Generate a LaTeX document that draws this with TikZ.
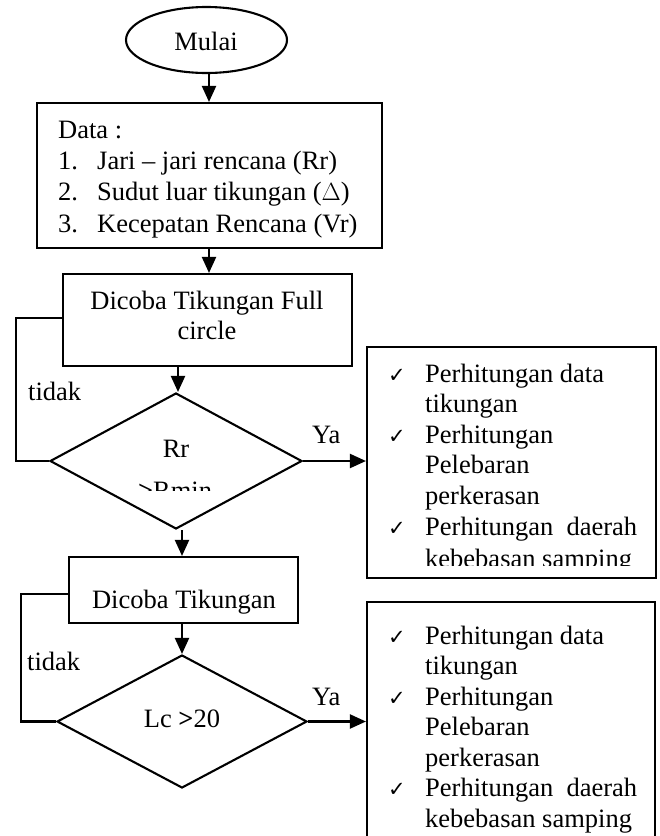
\documentclass[tikz,border=0pt]{standalone}
\usepackage{fontspec}
\setmainfont{Liberation Serif}
\newfontfamily\symfont{DejaVu Sans}
\usetikzlibrary{arrows.meta,shapes.geometric}
\begin{document}
\begin{tikzpicture}[x=1pt,y=-1pt,
  lw/.style={line width=2.1pt},
  boxnode/.style={draw,lw,rectangle,inner sep=0pt},
  diam/.style={draw,lw,diamond,inner sep=0pt},
  txt/.style={inner sep=0pt,font=\fontsize{26.5}{30.6}\selectfont},
  chk/.style={inner sep=0pt,font=\symfont\fontsize{21}{21}\selectfont},
  arr/.style={lw,-{Triangle[length=16pt,width=14pt]}},
  fb/.style={lw}
]
\clip (0,0) rectangle (660,836);
\fill[white] (0,0) rectangle (660,836);

% shapes
\node[draw,lw,ellipse,inner sep=0pt,minimum width=161pt,minimum height=66pt] (mulai) at (206.5,40) {};
\node[boxnode,minimum width=345pt,minimum height=145pt] (data) at (209.5,175.5) {};
\node[boxnode,minimum width=289pt,minimum height=92pt] (full) at (207.5,320) {};
\node[diam,minimum width=252pt,minimum height=136pt] (d1) at (176,461) {};
\node[boxnode,minimum width=229pt,minimum height=66pt] (tik) at (183.5,590) {};
\node[diam,minimum width=250pt,minimum height=133pt] (d2) at (182,721.5) {};
\node[boxnode,minimum width=289pt,minimum height=231pt] (r1) at (511.5,462.5) {};
\node[boxnode,minimum width=288pt,minimum height=258pt] (r2) at (511,731) {};

% texts
\node[txt,anchor=base] (tmulai) at (206,50) {Mulai};
\node[txt,anchor=base west] (td0) at (58,138) {Data :};
\node[txt,anchor=base west] (tn1) at (58,169.5) {1.};
\node[txt,anchor=base west] (tl1) at (97,169.5) {Jari -- jari rencana (Rr)};
\node[txt,anchor=base west] (tn2) at (58,200.8) {2.};
\node[txt,anchor=base west] (tl2) at (97,200.8) {Sudut luar tikungan ($\Delta$)};
\node[txt,anchor=base west] (tn3) at (58,232) {3.};
\node[txt,anchor=base west] (tl3) at (97,232) {Kecepatan Rencana (Vr)};

\node[txt,anchor=base] (tf1) at (207,309) {Dicoba Tikungan Full};
\node[txt,anchor=base] (tf2) at (207,339.5) {circle};

\node[txt,anchor=base] (trr) at (176,457) {Rr};
\begin{scope}
  \clip (100,420) rectangle (260,490);
  \node[txt,anchor=base] (trmin) at (175,499) {\textbf{>}Rmin};
\end{scope}

\node[txt,anchor=base] (ttik) at (184,608) {Dicoba Tikungan};
\node[txt,anchor=base] (tlc) at (182,727) {Lc \textbf{>}20};

\node[txt,anchor=base west] (tid1) at (28,400) {tidak};
\node[txt,anchor=base west] (tid2) at (27,670) {tidak};
\node[txt,anchor=base west] (ya1) at (312,443) {Ya};
\node[txt,anchor=base west] (ya2) at (312,705) {Ya};

% right box 1
\node[chk,anchor=base west] (c11) at (388,382) {✓};
\node[txt,anchor=base west] (a11) at (425,382) {Perhitungan data};
\node[txt,anchor=base west] (a12) at (425,412.6) {tikungan};
\node[chk,anchor=base west] (c12) at (388,443.2) {✓};
\node[txt,anchor=base west] (a13) at (425,443.2) {Perhitungan};
\node[txt,anchor=base west] (a14) at (425,473.8) {Pelebaran};
\node[txt,anchor=base west] (a15) at (425,504.4) {perkerasan};
\node[chk,anchor=base west] (c13) at (388,535) {✓};
\node[txt,anchor=base west] (a16) at (425,535) {Perhitungan\ \ daerah};
\begin{scope}
  \clip (400,540) rectangle (650,565);
  \node[txt,anchor=base west] (a17) at (425,567.5) {kebebasan samping};
\end{scope}

% right box 2
\node[chk,anchor=base west] (c21) at (388,644) {✓};
\node[txt,anchor=base west] (b11) at (425,644) {Perhitungan data};
\node[txt,anchor=base west] (b12) at (425,674.5) {tikungan};
\node[chk,anchor=base west] (c22) at (388,705) {✓};
\node[txt,anchor=base west] (b13) at (425,705) {Perhitungan};
\node[txt,anchor=base west] (b14) at (425,735.5) {Pelebaran};
\node[txt,anchor=base west] (b15) at (425,766) {perkerasan};
\node[chk,anchor=base west] (c23) at (388,796.5) {✓};
\node[txt,anchor=base west] (b16) at (425,796.5) {Perhitungan\ \ daerah};
\node[txt,anchor=base west] (b17) at (425,827) {kebebasan samping};

% connectors
\coordinate (x1) at (209,0);
\coordinate (x2) at (178,0);
\coordinate (x3) at (182,0);
\draw[arr] (mulai.south -| x1) -- (data.north -| x1);
\draw[arr] (data.south -| x1) -- (full.north -| x1);
\draw[arr] (full.south -| x2) -- (d1.north -| x2);
\draw[arr] (d1.east) -- (d1.east -| r1.west);
\draw[arr] (d1.south -| x3) -- (tik.north -| x3);
\draw[arr] (tik.south -| d2.north) -- (d2.north);
\draw[arr] (d2.east) -- (d2.east -| r2.west);

\coordinate (fb1) at (16,318);
\coordinate (fb2) at (21,594);
\draw[fb] (fb1 -| full.west) -- (fb1) |- (d1.west);
\draw[fb] (fb2 -| tik.west) -- (fb2) |- (d2.west);
\end{tikzpicture}
\end{document}
